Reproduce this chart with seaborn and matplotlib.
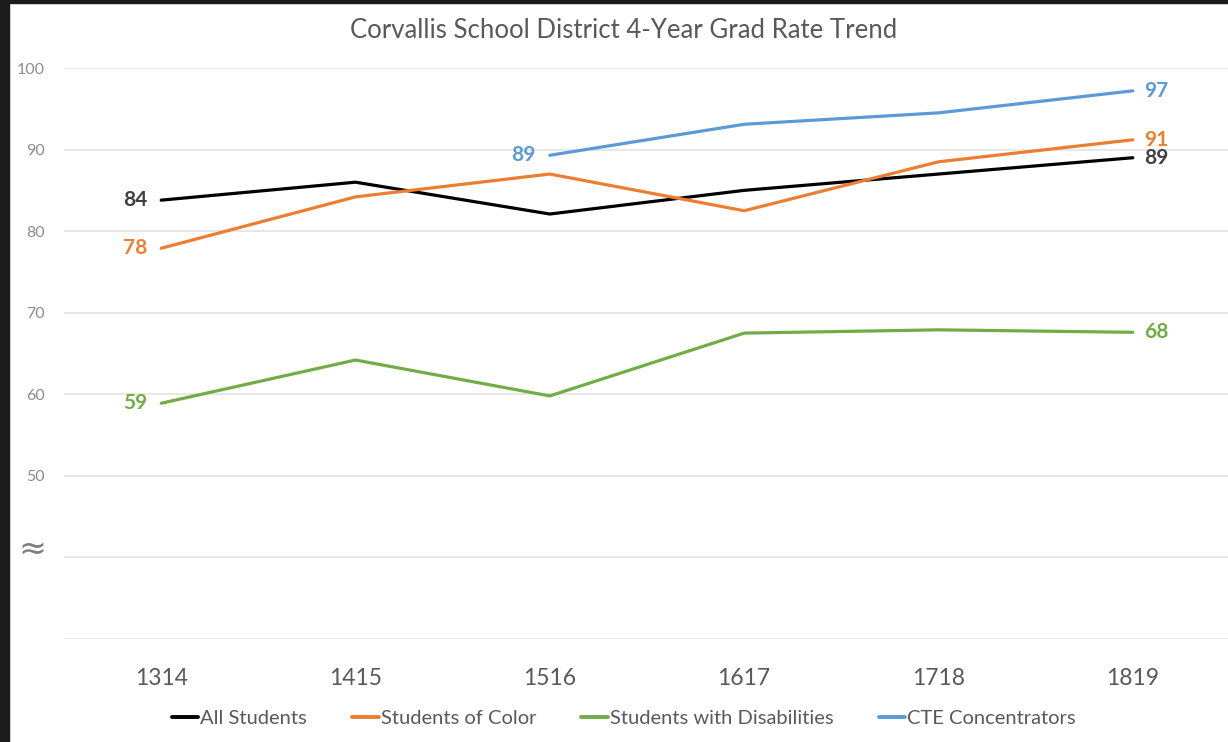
import numpy as np
import pandas as pd
import matplotlib
matplotlib.use("Agg")
import matplotlib.pyplot as plt
from matplotlib.patches import Rectangle
from matplotlib.lines import Line2D
import seaborn as sns

years = ["1314", "1415", "1516", "1617", "1718", "1819"]
all_students = [83.8, 86.0, 82.1, 85.0, 87.0, 89.0]
students_of_color = [77.9, 84.2, 87.0, 82.5, 88.5, 91.2]
students_disab = [58.9, 64.2, 59.8, 67.5, 67.9, 67.6]
cte = [np.nan, np.nan, 89.3, 93.1, 94.5, 97.2]
series_names = ["All Students", "Students of Color", "Students with Disabilities", "CTE Concentrators"]
colors = ["#000000", "#ED7D31", "#70AD47", "#5B9BD5"]
label_colors = ["#404040", "#ED7D31", "#70AD47", "#5B9BD5"]
first_labels = ["84", "78", "59", "89"]
last_labels = ["89", "91", "68", "97"]
yticks = [30, 40, 50, 60, 70, 80, 90, 100]
ytick_labels = ["", "", "50", "60", "70", "80", "90", "100"]
break_mark = "≈"
title = "Corvallis School District 4-Year Grad Rate Trend"

sns.set_theme(style="white")
plt.rcParams['font.family'] = ['Lato', 'DejaVu Sans']

rows = []
for name, vals in zip(series_names, [all_students, students_of_color, students_disab, cte]):
    for yr, v in zip(years, vals):
        rows.append({"Year": yr, "Rate": v, "Group": name})
df = pd.DataFrame(rows)
df_plot = df.dropna()

fig = plt.figure(figsize=(12.28, 7.42), dpi=100)
ax = fig.add_axes([64/1228, 1 - 639/742, (1230 - 64)/1228, (639 - 68)/742])

sns.lineplot(data=df_plot, x="Year", y="Rate", hue="Group", hue_order=series_names,
             palette=colors, linewidth=2.3, ax=ax, sort=False, legend=False)

ax.set_xlim(-0.5, 5.5)
ax.set_ylim(30, 100)
ax.set_yticks(yticks)
ax.set_yticklabels(ytick_labels)
ax.set_xticks(range(len(years)))
ax.set_xticklabels(years)
for lbl in ax.get_yticklabels():
    lbl.set_color("#8c8c8c")
    lbl.set_fontsize(11.5)
for lbl in ax.get_xticklabels():
    lbl.set_color("#595959")
    lbl.set_fontsize(16.5)
ax.tick_params(axis="y", length=0, pad=14)
ax.tick_params(axis="x", length=0, pad=21)
ax.set_xlabel("")
ax.set_ylabel("")
ax.yaxis.grid(True, color="#e4e4e4", linewidth=1.2)
ax.xaxis.grid(False)
for s in ax.spines.values():
    s.set_visible(False)
ax.set_axisbelow(True)

# axis break mark at 40
ax.annotate(break_mark, (0, 40), xycoords=("axes fraction", "data"), xytext=(-23, 6),
            textcoords="offset points", ha="center", va="center", fontsize=24,
            color="#7f7f7f", family=["DejaVu Sans"])

# data labels
all_vals = [all_students, students_of_color, students_disab, cte]
for vals, c, fl, ll in zip(all_vals, label_colors, first_labels, last_labels):
    first_i = next(i for i, v in enumerate(vals) if not np.isnan(v))
    ax.annotate(fl, (first_i, vals[first_i]), xytext=(-10, 0), textcoords="offset points",
                ha="right", va="center", color=c, fontsize=15, fontweight="bold")
    ax.annotate(ll, (len(vals) - 1, vals[-1]), xytext=(8, 0), textcoords="offset points",
                ha="left", va="center", color=c, fontsize=15, fontweight="bold")

fig.text(0.508, 1 - 30/742, title, ha="center", va="center", fontsize=18.5, color="#595959")

handles = [Line2D([0], [0], color=c, linewidth=2.8) for c in colors]
fig.legend(handles, series_names, loc="center", bbox_to_anchor=(0.508, 1 - 718/742), ncol=4,
           frameon=False, handlelength=1.3, handletextpad=0.1, columnspacing=2.25,
           prop={"size": 14.5}, labelcolor="#595959")

# dark screenshot border
fig.add_artist(Rectangle((0, 0), 9/1228, 1, transform=fig.transFigure, color="#1c1c1c", zorder=10))
fig.add_artist(Rectangle((0, 1 - 3/742), 1, 3/742, transform=fig.transFigure, color="#1c1c1c", zorder=10))

fig.savefig("out.png", dpi=100)
